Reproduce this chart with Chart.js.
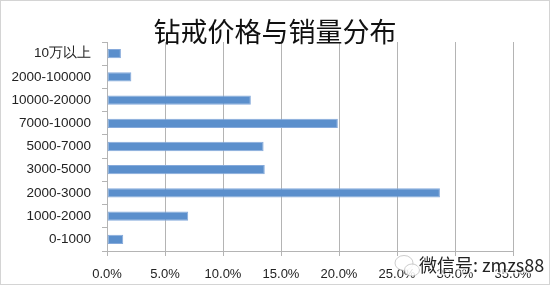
<!DOCTYPE html>
<html>
<head>
<meta charset="utf-8">
<script src="https://cdn.jsdelivr.net/npm/chart.js@4"></script>
<style>
  html, body { margin: 0; padding: 0; background: #ffffff; }
  #wrap { width: 550px; height: 285px; position: relative; }
</style>
</head>
<body>
<div id="wrap"><canvas id="c" width="550" height="285"></canvas></div>
<script>
const titleText = '钻戒价格与销量分布';
const categories = ['10万以上', '2000-100000', '10000-20000', '7000-10000', '5000-7000', '3000-5000', '2000-3000', '1000-2000', '0-1000'];
const shares = [1.2, 2.1, 12.4, 19.9, 13.5, 13.6, 28.7, 7.0, 1.4];
const xTickValues = [0, 5, 10, 15, 20, 25, 30, 35];
const watermarkText = '微信号: zmzs88';

const gridColor = '#b4b4b4';

const decorPlugin = {
  id: 'decor',
  beforeDraw(chart) {
    const ctx = chart.ctx;
    ctx.save();
    ctx.fillStyle = '#ffffff';
    ctx.fillRect(0, 0, chart.width, chart.height);
    ctx.restore();
  },
  afterDraw(chart) {
    const ctx = chart.ctx;
    ctx.save();
    // title
    ctx.fillStyle = '#111111';
    ctx.font = '27px "Noto Sans CJK SC", sans-serif';
    ctx.textAlign = 'center';
    ctx.textBaseline = 'middle';
    ctx.fillText(titleText, 275, 32);
    // watermark logo (faint)
    ctx.strokeStyle = 'rgba(170,170,170,0.6)';
    ctx.fillStyle = 'rgba(255,255,255,0.85)';
    ctx.lineWidth = 1;
    ctx.beginPath(); ctx.ellipse(404, 263, 9, 7.5, 0, 0, Math.PI * 2); ctx.fill(); ctx.stroke();
    ctx.beginPath(); ctx.ellipse(412, 270, 7.5, 6, 0, 0, Math.PI * 2); ctx.fill(); ctx.stroke();
    // watermark text
    ctx.font = '18px "Noto Sans CJK SC", sans-serif';
    ctx.textAlign = 'left';
    ctx.textBaseline = 'middle';
    ctx.lineWidth = 3;
    ctx.strokeStyle = 'rgba(255,255,255,0.7)';
    ctx.strokeText(watermarkText, 419, 265);
    ctx.fillStyle = '#222222';
    ctx.fillText(watermarkText, 419, 265);
    // frame
    ctx.strokeStyle = '#d4d4d4';
    ctx.lineWidth = 1;
    ctx.strokeRect(0.5, 0.5, chart.width - 1, chart.height - 1);
    ctx.restore();
  }
};

new Chart(document.getElementById('c'), {
  type: 'bar',
  data: {
    labels: categories,
    datasets: [{
      data: shares,
      backgroundColor: '#5b8fcc',
      borderColor: '#86aadb',
      borderWidth: 1,
      borderSkipped: false,
      categoryPercentage: 1,
      barPercentage: 0.4
    }]
  },
  options: {
    indexAxis: 'y',
    responsive: false,
    animation: false,
    devicePixelRatio: 1,
    layout: { padding: { top: 42, right: 37, left: 0, bottom: 0 } },
    plugins: {
      legend: { display: false },
      title: { display: false },
      tooltip: { enabled: false }
    },
    scales: {
      x: {
        type: 'linear',
        min: 0,
        max: 35,
        afterBuildTicks(scale) { scale.ticks = xTickValues.map(v => ({ value: v })); },
        afterFit(scale) { scale.height = 34; },
        ticks: {
          callback: v => Number(v).toFixed(1) + '%',
          color: '#222222',
          font: { family: '"Liberation Sans", Arial, sans-serif', size: 13 },
          padding: 11,
          maxRotation: 0
        },
        grid: { color: gridColor, lineWidth: 1, tickLength: 5, drawTicks: true },
        border: { display: true, color: gridColor, width: 1 }
      },
      y: {
        type: 'category',
        afterFit(scale) { scale.width = 107; },
        ticks: {
          color: '#222222',
          font: { family: '"Liberation Sans", Arial, sans-serif', size: 13.5 },
          padding: 11,
          autoSkip: false
        },
        grid: { drawOnChartArea: false, drawTicks: true, tickLength: 5, color: gridColor, offset: true },
        border: { display: true, color: gridColor, width: 1 }
      }
    }
  },
  plugins: [decorPlugin]
});
</script>
</body>
</html>
